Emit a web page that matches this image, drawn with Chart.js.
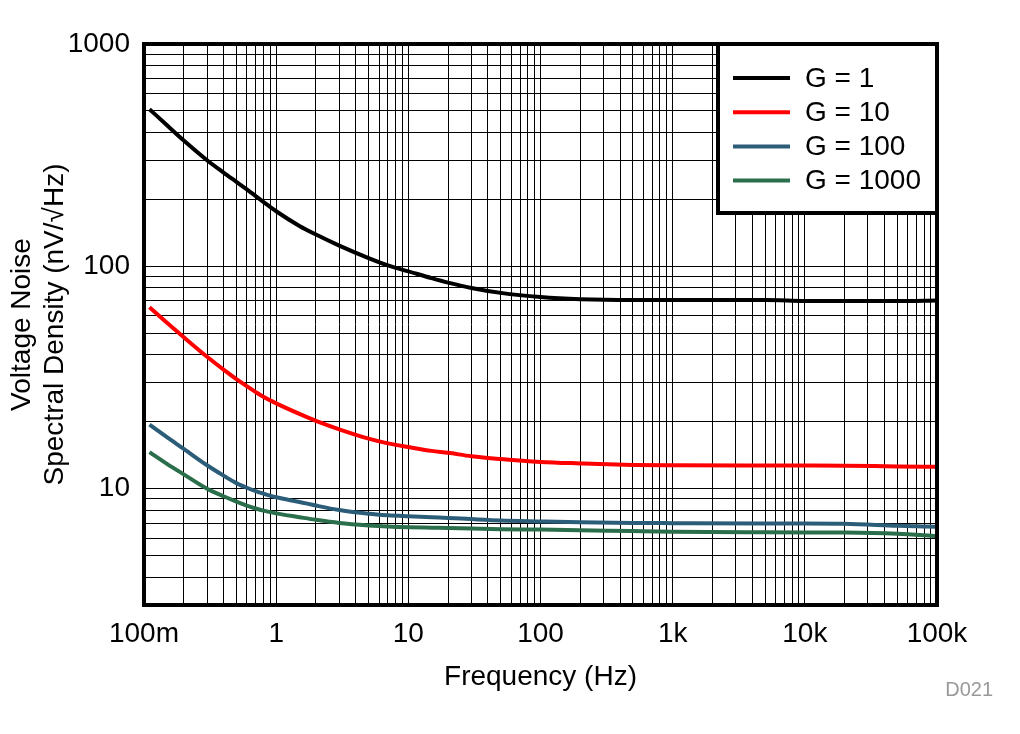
<!DOCTYPE html>
<html>
<head>
<meta charset="utf-8">
<script src="https://cdn.jsdelivr.net/npm/chart.js@4/dist/chart.umd.min.js"></script>
<style>
  html, body { margin: 0; padding: 0; background: #fff; }
  #wrap { width: 1020px; height: 734px; }
</style>
</head>
<body>
<div id="wrap"><canvas id="myChart" width="1020" height="734"></canvas></div>
<script>
'use strict';

// frequency points (Hz)
const freqs = [0.11, 0.15, 0.2, 0.3, 0.4, 0.5, 0.6, 0.7, 0.8, 1,
  1.5, 2, 3, 5, 7, 10, 15, 20, 30, 50,
  100, 200, 500, 1000, 5000, 10000, 20000, 50000, 100000];

// noise density, nV/rtHz
const g1 = [509, 430, 368, 300, 264, 240, 222, 207, 195, 177,
  152, 139, 124, 109, 101, 95, 88.5, 84.5, 80, 76,
  72.8, 71.2, 70.6, 70.6, 70.6, 69.9, 69.8, 69.8, 70.3];
const g10 = [65.5, 55.6, 48, 39.2, 34.3, 31.1, 28.9, 27.2, 25.9, 24.2,
  21.7, 20.2, 18.5, 16.8, 16.0, 15.4, 14.8, 14.5, 14.0, 13.6,
  13.2, 13.0, 12.8, 12.75, 12.72, 12.72, 12.7, 12.6, 12.55];
const g100 = [19.4, 17.0, 15.1, 12.75, 11.45, 10.6, 10.1, 9.75, 9.5, 9.15,
  8.72, 8.4, 8.02, 7.72, 7.6, 7.52, 7.44, 7.39, 7.3, 7.2,
  7.13, 7.07, 7.02, 7.0, 6.97, 6.97, 6.95, 6.82, 6.74];
const g1000 = [14.6, 12.9, 11.6, 10.0, 9.25, 8.75, 8.4, 8.15, 7.97, 7.75,
  7.45, 7.25, 7.02, 6.84, 6.76, 6.71, 6.68, 6.66, 6.62, 6.58,
  6.55, 6.51, 6.45, 6.41, 6.37, 6.36, 6.35, 6.27, 6.13];

const seriesLabels = ['G = 1', 'G = 10', 'G = 100', 'G = 1000'];
const seriesColors = ['#000000', '#ff0000', '#2c5d78', '#2b6e4b'];

const xTickValues = [0.1, 1, 10, 100, 1000, 10000, 100000];
const xTickLabels = ['100m', '1', '10', '100', '1k', '10k', '100k'];
const yTickValues = [10, 100, 1000];
const yTickLabels = ['10', '100', '1000'];

const FONT = '"Liberation Sans", Arial, sans-serif';

function logTicks(min, max) {
  const out = [];
  for (let e = Math.floor(Math.log10(min)); e <= Math.ceil(Math.log10(max)); e++) {
    for (let n = 1; n <= 9; n++) {
      const v = n * Math.pow(10, e);
      if (v >= min * 0.9999 && v <= max * 1.0001) out.push({ value: v });
    }
  }
  return out;
}

function findLabel(values, labels, v) {
  const i = values.findIndex((t) => Math.abs(t - v) / t < 1e-6);
  return i >= 0 ? labels[i] : '';
}

const framePlugin = {
  id: 'frame',
  afterDraw(chart) {
    const { ctx, chartArea: a } = chart;
    ctx.save();
    ctx.lineWidth = 4;
    ctx.strokeStyle = '#000';
    ctx.strokeRect(a.left, a.top, a.right - a.left, a.bottom - a.top);

    // legend box
    const w = 219, h = 169;
    const bx = a.right - w, by = a.top;
    ctx.fillStyle = '#fff';
    ctx.fillRect(bx, by, w, h);
    ctx.strokeRect(bx, by, w, h);
    ctx.font = '28px ' + FONT;
    ctx.textBaseline = 'middle';
    ctx.textAlign = 'left';
    chart.data.datasets.forEach((ds, i) => {
      const y = by + 34 + i * 34.2;
      ctx.strokeStyle = ds.borderColor;
      ctx.lineWidth = 4;
      ctx.beginPath();
      ctx.moveTo(bx + 15, y);
      ctx.lineTo(bx + 72, y);
      ctx.stroke();
      ctx.fillStyle = '#000';
      ctx.fillText(ds.label, bx + 87, y + 1);
    });

    ctx.font = '20px ' + FONT;
    ctx.fillStyle = '#999';
    ctx.textAlign = 'right';
    ctx.fillText('D021', 993, 690);
    ctx.restore();
  },
};

const series = [g1, g10, g100, g1000];

new Chart(document.getElementById('myChart'), {
  type: 'line',
  data: {
    datasets: series.map((vals, i) => ({
      label: seriesLabels[i],
      data: freqs.map((f, j) => ({ x: f, y: vals[j] })),
      borderColor: seriesColors[i],
      borderWidth: 4,
      pointRadius: 0,
      cubicInterpolationMode: 'monotone',
      fill: false,
    })),
  },
  options: {
    responsive: false,
    animation: false,
    devicePixelRatio: 1,
    layout: { padding: { left: 0, right: 83, top: 44, bottom: 0 } },
    plugins: { legend: { display: false }, tooltip: { enabled: false } },
    scales: {
      x: {
        type: 'logarithmic',
        min: 0.1,
        max: 100000,
        afterBuildTicks: (scale) => { scale.ticks = logTicks(0.1, 100000); },
        afterFit: (scale) => { scale.height = 129; },
        grid: { color: '#000', lineWidth: 1, drawTicks: false },
        border: { display: false },
        ticks: {
          autoSkip: false,
          maxRotation: 0,
          padding: 12,
          color: '#000',
          font: { family: FONT, size: 28 },
          callback: (v) => findLabel(xTickValues, xTickLabels, v),
        },
        title: {
          display: true,
          text: 'Frequency (Hz)',
          color: '#000',
          font: { family: FONT, size: 28 },
          padding: { top: 0, bottom: 40 },
        },
      },
      y: {
        type: 'logarithmic',
        min: 3,
        max: 1000,
        afterBuildTicks: (scale) => { scale.ticks = logTicks(3, 1000); },
        afterFit: (scale) => { scale.width = 144; },
        grid: { color: '#000', lineWidth: 1, drawTicks: false },
        border: { display: false },
        ticks: {
          autoSkip: false,
          padding: 14,
          color: '#000',
          font: { family: FONT, size: 28 },
          callback: (v) => findLabel(yTickValues, yTickLabels, v),
        },
        title: {
          display: true,
          text: ['Voltage Noise', 'Spectral Density (nV/\u221AHz)'],
          color: '#000',
          font: { family: FONT, size: 28, lineHeight: 1.2 },
          padding: { top: 5, bottom: 0 },
        },
      },
    },
  },
  plugins: [framePlugin],
});
</script>
</body>
</html>
